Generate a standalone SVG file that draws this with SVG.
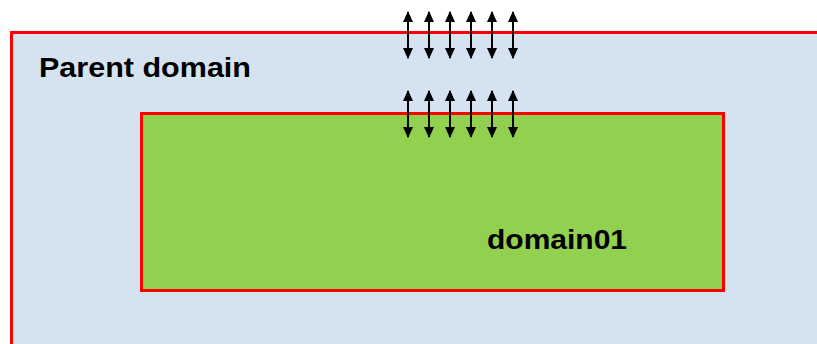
<svg xmlns="http://www.w3.org/2000/svg" width="817" height="344" viewBox="0 0 817 344">
  <style>
    .label { font-family: "Liberation Sans", Arial, sans-serif; font-weight: bold; font-size: 28px; fill: #000; }
    .domain { stroke: #FF0000; stroke-width: 3; }
    .link { stroke: #000; stroke-width: 2; fill: none; marker-start: url(#head); marker-end: url(#head); }
  </style>
  <defs>
    <marker id="head" viewBox="0 0 10 10" refX="9" refY="5" markerWidth="11" markerHeight="10" markerUnits="userSpaceOnUse" orient="auto-start-reverse" preserveAspectRatio="none">
      <path d="M0,0 L10,5 L0,10 z" fill="#000"/>
    </marker>
  </defs>

  <rect width="817" height="344" fill="#FFFFFF"/>

  <g id="parent-domain">
    <rect class="domain" x="11.5" y="32.5" width="820" height="330" fill="#D5E3F0"/>
    <text class="label" x="39" y="77" textLength="212" lengthAdjust="spacingAndGlyphs">Parent domain</text>
  </g>

  <g id="domain01">
    <rect class="domain" x="141.5" y="113.5" width="582" height="177" fill="#92D050"/>
    <text class="label" x="487" y="249" textLength="140" lengthAdjust="spacingAndGlyphs">domain01</text>
  </g>

  <g id="connectors">
    <path class="link" d="M408,12 V58"/>
    <path class="link" d="M429,12 V58"/>
    <path class="link" d="M450,12 V58"/>
    <path class="link" d="M471,12 V58"/>
    <path class="link" d="M492,12 V58"/>
    <path class="link" d="M513,12 V58"/>
    <path class="link" d="M408,91 V137"/>
    <path class="link" d="M429,91 V137"/>
    <path class="link" d="M450,91 V137"/>
    <path class="link" d="M471,91 V137"/>
    <path class="link" d="M492,91 V137"/>
    <path class="link" d="M513,91 V137"/>
  </g>
</svg>
